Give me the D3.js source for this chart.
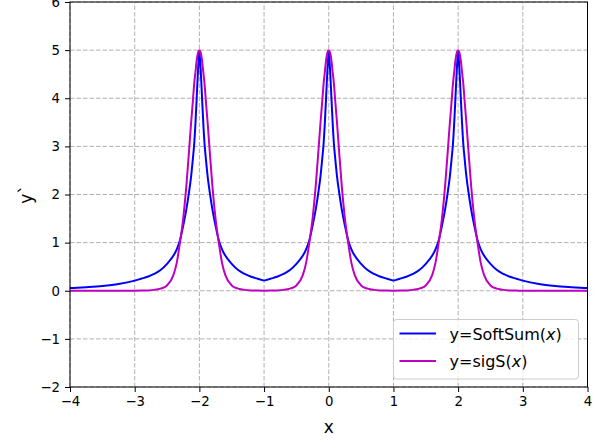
<!DOCTYPE html>
<html>
<head>
<meta charset="utf-8">
<script src="https://cdn.jsdelivr.net/npm/d3@7"></script>
<style>
  body { margin: 0; background: #fff; }
  svg { display: block; font-family: "DejaVu Sans", sans-serif; }
</style>
</head>
<body>
<div id="chart"></div>
<script>
const xs = [
  -4, -3.75, -3.5, -3.25,
  -3, -2.9, -2.8, -2.7, -2.6, -2.5, -2.4, -2.35, -2.3, -2.25, -2.2, -2.16, -2.13, -2.1, -2.08, -2.06, -2.04, -2.02,
  -2, -1.98, -1.96, -1.94, -1.92, -1.9, -1.87, -1.84, -1.8, -1.75, -1.7, -1.65, -1.6, -1.5, -1.4, -1.3, -1.2, -1.1,
  -1, -0.9, -0.8, -0.7, -0.6, -0.5, -0.4, -0.35, -0.3, -0.25, -0.2, -0.16, -0.13, -0.1, -0.08, -0.06, -0.04, -0.02,
  0, 0.02, 0.04, 0.06, 0.08, 0.1, 0.13, 0.16, 0.2, 0.25, 0.3, 0.35, 0.4, 0.5, 0.6, 0.7, 0.8, 0.9,
  1, 1.1, 1.2, 1.3, 1.4, 1.5, 1.6, 1.65, 1.7, 1.75, 1.8, 1.84, 1.87, 1.9, 1.92, 1.94, 1.96, 1.98,
  2, 2.02, 2.04, 2.06, 2.08, 2.1, 2.13, 2.16, 2.2, 2.25, 2.3, 2.35, 2.4, 2.5, 2.6, 2.7, 2.8, 2.9,
  3, 3.25, 3.5, 3.75, 4
];

// y=SoftSum(x)
const softSum = [
  0.055, 0.075, 0.10, 0.14,
  0.21, 0.25, 0.29, 0.35, 0.43, 0.56, 0.73, 0.86, 1.05, 1.35, 1.7, 2.05, 2.35, 2.75, 3.05, 3.5, 4.05, 4.6,
  5, 4.6, 4.05, 3.5, 3.05, 2.75, 2.35, 2.05, 1.7, 1.35, 1.05, 0.86, 0.73, 0.56, 0.43, 0.35, 0.29, 0.25,
  0.21, 0.25, 0.29, 0.35, 0.43, 0.56, 0.73, 0.86, 1.05, 1.35, 1.7, 2.05, 2.35, 2.75, 3.05, 3.5, 4.05, 4.6,
  5, 4.6, 4.05, 3.5, 3.05, 2.75, 2.35, 2.05, 1.7, 1.35, 1.05, 0.86, 0.73, 0.56, 0.43, 0.35, 0.29, 0.25,
  0.21, 0.25, 0.29, 0.35, 0.43, 0.56, 0.73, 0.86, 1.05, 1.35, 1.7, 2.05, 2.35, 2.75, 3.05, 3.5, 4.05, 4.6,
  5, 4.6, 4.05, 3.5, 3.05, 2.75, 2.35, 2.05, 1.7, 1.35, 1.05, 0.86, 0.73, 0.56, 0.43, 0.35, 0.29, 0.25,
  0.21, 0.14, 0.10, 0.075, 0.055
];

// y=sigS(x)
const sigS = [
  0, 0, 0, 0,
  0.001, 0.003, 0.007, 0.018, 0.045, 0.11, 0.33, 0.58, 1.0, 1.5, 2.2, 2.9, 3.45, 3.95, 4.3, 4.55, 4.8, 4.95,
  5, 4.95, 4.8, 4.55, 4.3, 3.95, 3.45, 2.9, 2.2, 1.5, 1.0, 0.58, 0.33, 0.11, 0.045, 0.018, 0.007, 0.003,
  0.001, 0.003, 0.007, 0.018, 0.045, 0.11, 0.33, 0.58, 1.0, 1.5, 2.2, 2.9, 3.45, 3.95, 4.3, 4.55, 4.8, 4.95,
  5, 4.95, 4.8, 4.55, 4.3, 3.95, 3.45, 2.9, 2.2, 1.5, 1.0, 0.58, 0.33, 0.11, 0.045, 0.018, 0.007, 0.003,
  0.001, 0.003, 0.007, 0.018, 0.045, 0.11, 0.33, 0.58, 1.0, 1.5, 2.2, 2.9, 3.45, 3.95, 4.3, 4.55, 4.8, 4.95,
  5, 4.95, 4.8, 4.55, 4.3, 3.95, 3.45, 2.9, 2.2, 1.5, 1.0, 0.58, 0.33, 0.11, 0.045, 0.018, 0.007, 0.003,
  0.001, 0, 0, 0, 0
];

const xTicks = [-4, -3, -2, -1, 0, 1, 2, 3, 4];
const yTicks = [-2, -1, 0, 1, 2, 3, 4, 5, 6];

const width = 605, height = 441;
const margin = {top: 2, right: 17.5, bottom: 54, left: 70};

const svg = d3.select("#chart").append("svg")
  .attr("width", width)
  .attr("height", height);

const x = d3.scaleLinear().domain([-4, 4]).range([margin.left, width - margin.right]);
const y = d3.scaleLinear().domain([-2, 6]).range([height - margin.bottom, margin.top]);

const fmt = d => d < 0 ? "\u2212" + Math.abs(d) : String(d);

// grid
svg.append("g").selectAll("line").data(xTicks).join("line")
  .attr("x1", d => x(d)).attr("x2", d => x(d))
  .attr("y1", y(-2)).attr("y2", y(6))
  .attr("stroke", "#b0b0b0").attr("stroke-width", 1).attr("stroke-dasharray", "4.5,2");
svg.append("g").selectAll("line").data(yTicks).join("line")
  .attr("x1", x(-4)).attr("x2", x(4))
  .attr("y1", d => y(d)).attr("y2", d => y(d))
  .attr("stroke", "#b0b0b0").attr("stroke-width", 1).attr("stroke-dasharray", "4.5,2");

// split a series into monotone pieces so peaks and troughs keep their sharp corners
function pieces(vals) {
  const out = [];
  let cur = [[xs[0], vals[0]]];
  for (let i = 1; i < xs.length; i++) {
    cur.push([xs[i], vals[i]]);
    const isExt = i < xs.length - 1 &&
      ((vals[i] > vals[i - 1] && vals[i] > vals[i + 1]) || (vals[i] < vals[i - 1] && vals[i] < vals[i + 1]));
    if (isExt) { out.push(cur); cur = [[xs[i], vals[i]]]; }
  }
  out.push(cur);
  return out;
}

const line = d3.line().x(d => x(d[0])).y(d => y(d[1])).curve(d3.curveMonotoneX);

svg.append("path")
  .attr("d", pieces(softSum).map(p => line(p)).join(""))
  .attr("fill", "none").attr("stroke", "#0000ff").attr("stroke-width", 2)
  .attr("stroke-linejoin", "round");
svg.append("path")
  .attr("d", line(xs.map((v, i) => [v, sigS[i]])))
  .attr("fill", "none").attr("stroke", "#bf00bf").attr("stroke-width", 2);

// axes
const xAxis = svg.append("g")
  .attr("transform", `translate(0,${y(-2)})`)
  .call(d3.axisBottom(x).tickValues(xTicks).tickFormat(fmt).tickSize(5).tickPadding(5));
const yAxis = svg.append("g")
  .attr("transform", `translate(${x(-4)},0)`)
  .call(d3.axisLeft(y).tickValues(yTicks).tickFormat(fmt).tickSize(5).tickPadding(5));
[xAxis, yAxis].forEach(g => {
  g.selectAll("text").attr("font-size", 13.3).attr("fill", "#000")
    .attr("font-family", "DejaVu Sans, sans-serif");
  g.selectAll("line").attr("stroke", "#000").attr("stroke-width", 1);
  g.select(".domain").remove();
});

// frame
svg.append("rect")
  .attr("x", x(-4)).attr("y", y(6))
  .attr("width", x(4) - x(-4)).attr("height", y(-2) - y(6))
  .attr("fill", "none").attr("stroke", "#000").attr("stroke-width", 1);

// axis labels
svg.append("text")
  .attr("x", (x(-4) + x(4)) / 2).attr("y", 433)
  .attr("text-anchor", "middle").attr("font-size", 17)
  .text("x");
svg.append("text")
  .attr("transform", `translate(32,${y(2)}) rotate(-90)`)
  .attr("text-anchor", "middle").attr("font-size", 17)
  .text("y`");

// legend
const legend = svg.append("g");
legend.append("rect")
  .attr("x", 393.5).attr("y", 319.5).attr("width", 185).attr("height", 59.5)
  .attr("rx", 3).attr("fill", "#fff").attr("fill-opacity", 0.8)
  .attr("stroke", "#cccccc").attr("stroke-width", 1);

const items = [
  {name: "SoftSum", color: "#0000ff"},
  {name: "sigS", color: "#bf00bf"}
];
items.forEach((it, i) => {
  const ly = 333.5 + i * 27.5;
  legend.append("line")
    .attr("x1", 399.5).attr("x2", 436).attr("y1", ly).attr("y2", ly)
    .attr("stroke", it.color).attr("stroke-width", 2);
  const t = legend.append("text")
    .attr("x", 449.5).attr("y", ly + 6)
    .attr("font-size", 16);
  t.append("tspan").text("y=" + it.name + "(");
  t.append("tspan").attr("font-style", "italic").text("x");
  t.append("tspan").text(")");
});
</script>
</body>
</html>
